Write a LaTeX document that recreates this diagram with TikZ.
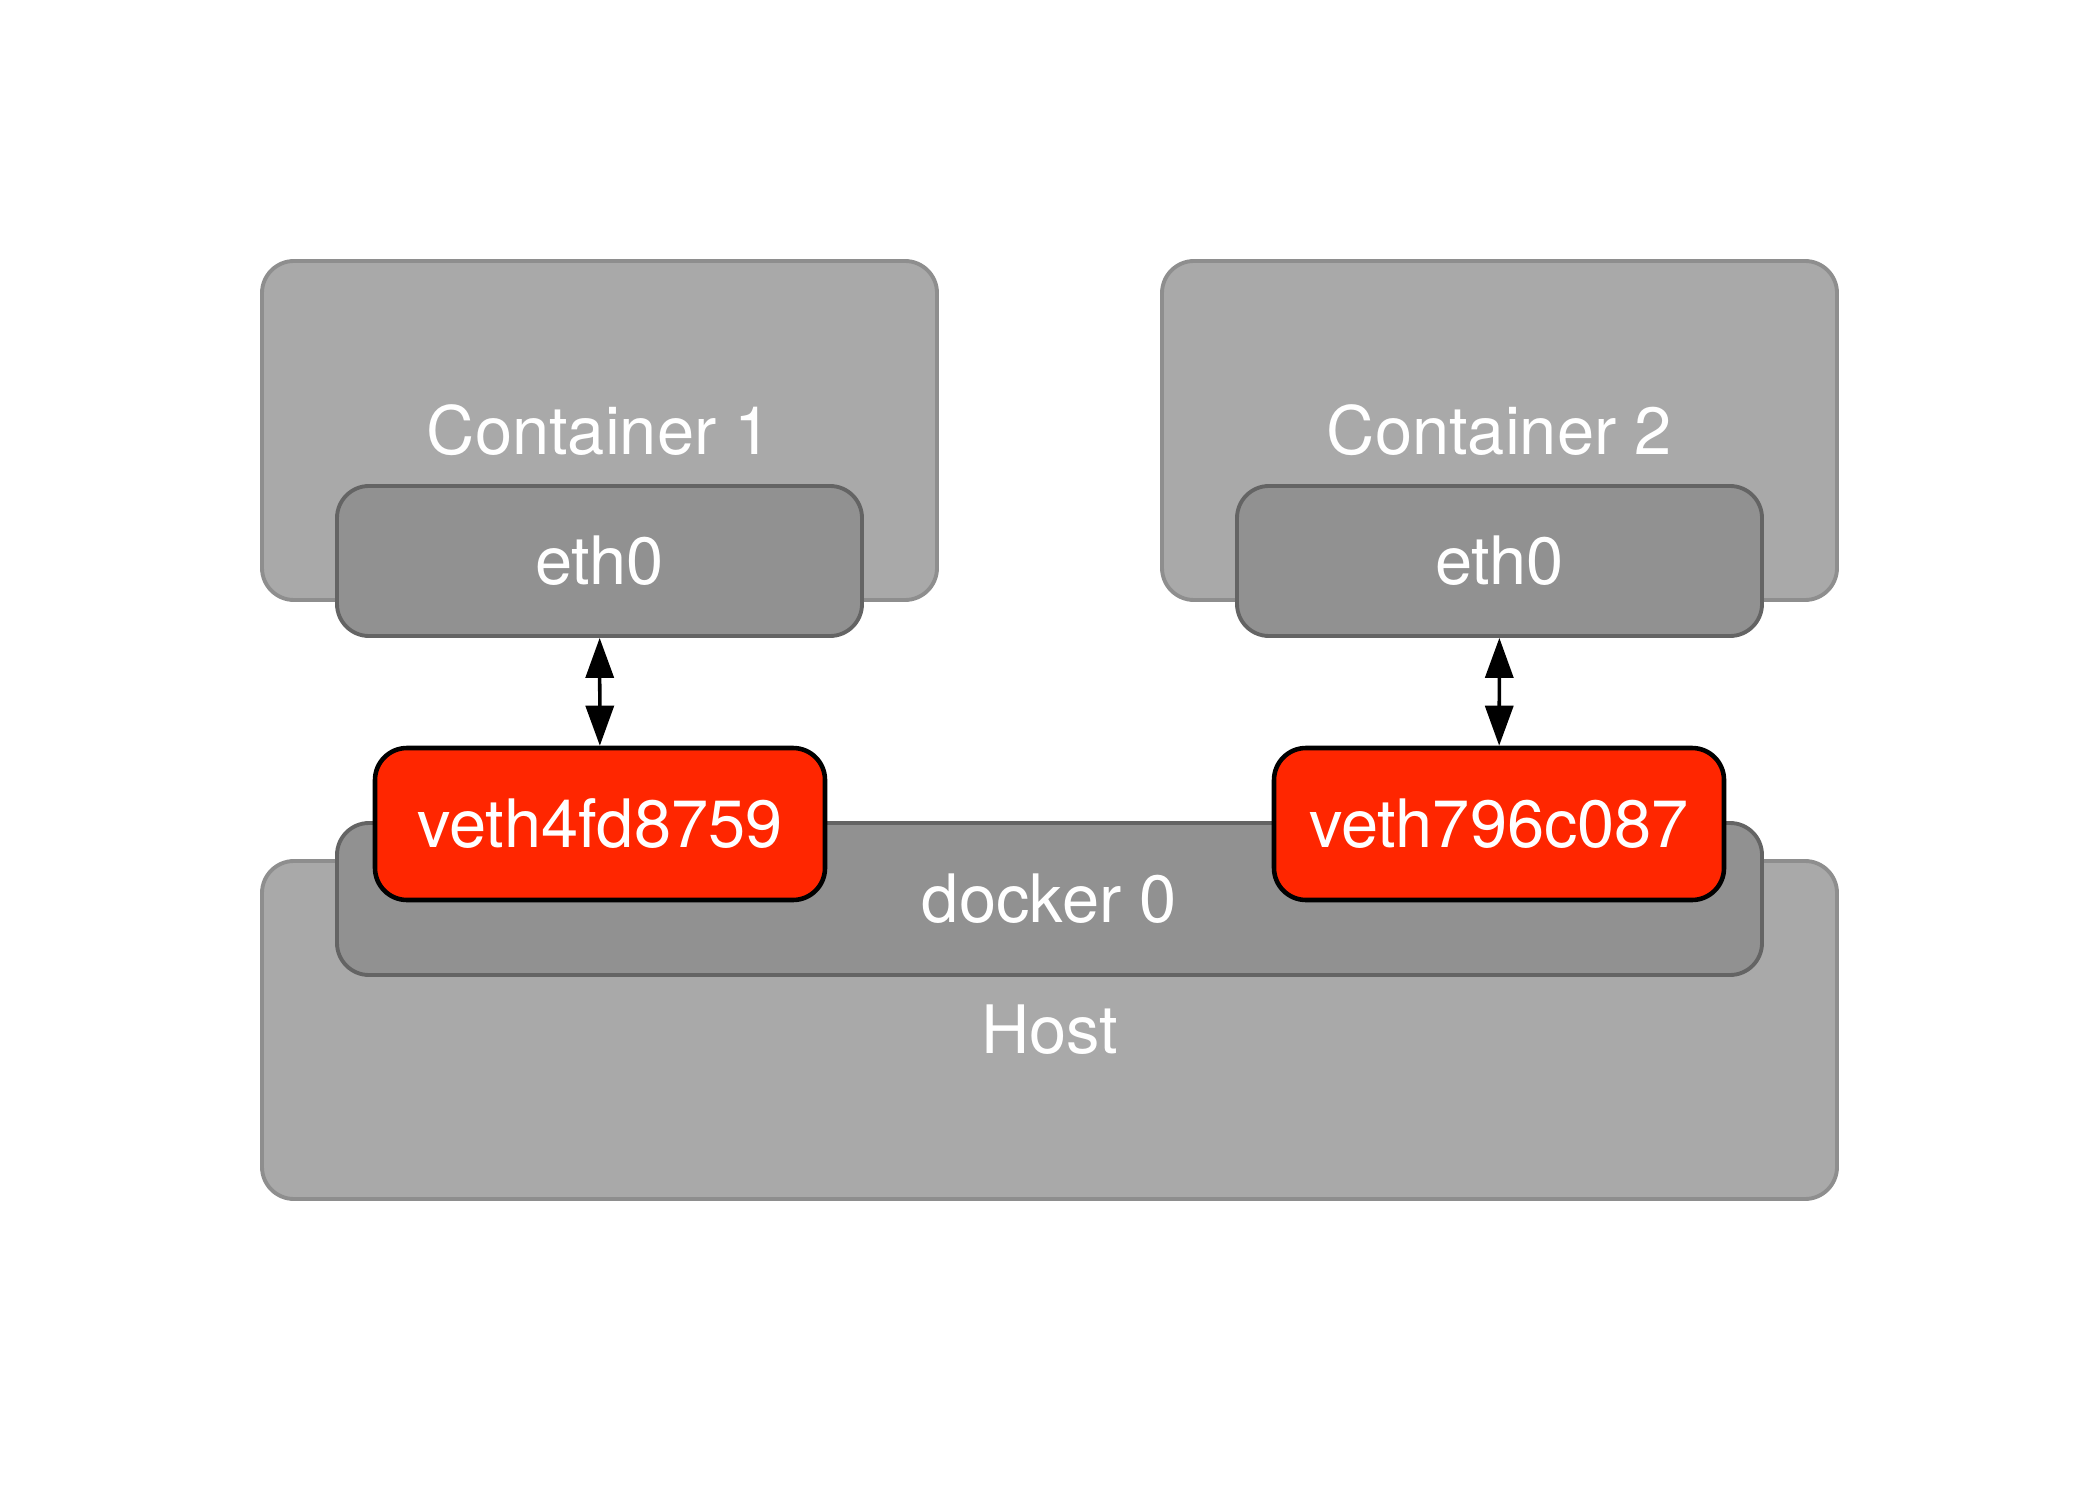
\documentclass[tikz,border=0pt]{standalone}
\usepackage{fontspec}
\setmainfont{TeX Gyre Heros}
\usetikzlibrary{arrows.meta}
\definecolor{outergray}{HTML}{A9A9A9}
\definecolor{outerline}{HTML}{8E8E8E}
\definecolor{innergray}{HTML}{919191}
\definecolor{innerline}{HTML}{646464}
\definecolor{vethred}{HTML}{FF2600}
\begin{document}
\begin{tikzpicture}

              % Definitions
              \tikzstyle{Outer} = [rectangle, rounded corners=0.32cm, fill=outergray, draw=outerline, line width=1.1pt, text=white, font=\fontsize{19}{23}\selectfont]
              \tikzstyle{Iface} = [rectangle, rounded corners=0.32cm, fill=innergray, draw=innerline, line width=1.1pt, text=white, font=\fontsize{19}{23}\selectfont]
              \tikzstyle{Veth} = [rectangle, rounded corners=0.32cm, fill=vethred, draw=black, line width=1.3pt, text=white, font=\fontsize{19}{23}\selectfont, minimum width=4.5cm, minimum height=1.52cm]
              \tikzstyle{arrow} = [line width=1pt, {Triangle[length=4mm,width=2.8mm]}-{Triangle[length=4mm,width=2.8mm]}]

              \useasboundingbox (0,0) rectangle (20.99,-14.99);

              \node (C1) [Outer, minimum width=6.75cm, minimum height=3.39cm] at (5.995,-4.305) {Container 1};
              \node (C2) [Outer, minimum width=6.75cm, minimum height=3.39cm] at (14.995,-4.305) {Container 2};
              \node (E1) [Iface, minimum width=5.25cm, minimum height=1.5cm] at (5.995,-5.61) {eth0};
              \node (E2) [Iface, minimum width=5.25cm, minimum height=1.5cm] at (14.995,-5.61) {eth0};

              \node (H) [Outer, minimum width=15.75cm, minimum height=3.38cm] at (10.495,-10.30) {Host};
              \node (D0) [Iface, minimum width=14.25cm, minimum height=1.52cm] at (10.495,-8.99) {docker 0};
              \node (V1) [Veth] at (6.0,-8.24) {veth4fd8759};
              \node (V2) [Veth] at (14.99,-8.24) {veth796c087};

              \draw [arrow] (E1) -- (V1);
              \draw [arrow] (E2) -- (V2);

\end{tikzpicture}
\end{document}
